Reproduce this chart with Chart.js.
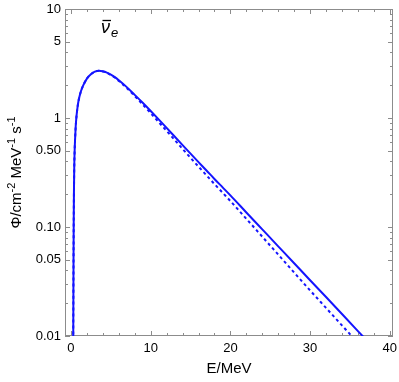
<!DOCTYPE html>
<html>
<head>
<meta charset="utf-8">
<script src="https://cdn.jsdelivr.net/npm/chart.js@4.4.1/dist/chart.umd.min.js"></script>
<style>
  html, body { margin: 0; padding: 0; background: #fff; }
  #wrap { width: 399px; height: 382px; }
</style>
</head>
<body>
<div id="wrap"><canvas id="spectrum"></canvas></div>
<script>
// energies in MeV
const energies = [0.28, 0.30, 0.32, 0.34, 0.37, 0.41, 0.46, 0.52, 0.59, 0.7,
  0.85, 1.0, 1.25, 1.55, 2.0, 2.5, 3.0, 3.5, 4, 4.5,
  5, 5.5, 6, 7, 8, 9, 10, 11, 12, 13,
  14, 15, 16, 17, 18, 19, 20, 22, 24, 26,
  28, 30, 32, 34, 36, 38];
// solid curve
const fluxSolid = [0.008, 0.02, 0.05, 0.1, 0.2, 0.35, 0.5, 0.65, 0.83, 1.05,
  1.3, 1.5, 1.76, 2.0, 2.3, 2.52, 2.66, 2.72, 2.685, 2.61,
  2.50, 2.37, 2.22, 1.92, 1.63, 1.38, 1.16, 0.971, 0.811, 0.676,
  0.564, 0.471, 0.394, 0.330, 0.276, 0.232, 0.195, 0.136, 0.0951, 0.0665,
  0.0465, 0.0325, 0.0228, 0.0159, 0.0111, 0.00776];
// dashed curve
const fluxDashed = [0.008, 0.02, 0.05, 0.1, 0.2, 0.35, 0.5, 0.65, 0.83, 1.05,
  1.3, 1.5, 1.76, 2.0, 2.3, 2.52, 2.66, 2.72, 2.67, 2.60,
  2.48, 2.35, 2.19, 1.885, 1.59, 1.33, 1.108, 0.919, 0.761, 0.630,
  0.520, 0.431, 0.358, 0.298, 0.248, 0.207, 0.173, 0.119, 0.0815, 0.0558,
  0.0382, 0.0262, 0.0181, 0.0125, 0.00866, 0.0060];

const xTicks = [0, 10, 20, 30, 40];
const xMinor = [2, 4, 6, 8, 12, 14, 16, 18, 22, 24, 26, 28, 32, 34, 36, 38];
const yTicks = [0.01, 0.05, 0.1, 0.5, 1, 5, 10];
const yTickLabels = ["0.01", "0.05", "0.10", "0.50", "1", "5", "10"];
const yMinor = [0.02, 0.03, 0.04, 0.06, 0.07, 0.08, 0.09, 0.2, 0.3, 0.4, 0.6, 0.7, 0.8, 0.9, 2, 3, 4, 6, 7, 8, 9];

const FONT = "'Liberation Sans', Arial, sans-serif";
const BLUE = "rgb(20,20,255)";
const FRAME = "#8c8c8c";

/* frame, inward ticks, labels that need super/subscripts */
const decorPlugin = {
  id: "decor",
  beforeDatasetsDraw(chart) {
    const { ctx, chartArea: a, scales } = chart;
    const sx = scales.x, sy = scales.y;
    ctx.save();
    ctx.strokeStyle = FRAME;
    ctx.lineWidth = 1;
    ctx.strokeRect(Math.round(a.left) + 0.5, Math.round(a.top) + 0.5,
      Math.round(a.right - a.left) - 1, Math.round(a.bottom - a.top) - 1);
    ctx.beginPath();
    const xt = (v, len) => {
      const px = Math.round(sx.getPixelForValue(v)) + 0.5;
      ctx.moveTo(px, a.bottom); ctx.lineTo(px, a.bottom - len);
      ctx.moveTo(px, a.top); ctx.lineTo(px, a.top + len);
    };
    const yt = (v, len) => {
      const py = Math.round(sy.getPixelForValue(v)) + 0.5;
      ctx.moveTo(a.left, py); ctx.lineTo(a.left + len, py);
      ctx.moveTo(a.right, py); ctx.lineTo(a.right - len, py);
    };
    xTicks.forEach(v => xt(v, 5));
    xMinor.forEach(v => xt(v, 3));
    yTicks.forEach(v => yt(v, 5));
    yMinor.forEach(v => yt(v, 3));
    ctx.stroke();
    ctx.restore();
  },
  afterDraw(chart) {
    const { ctx, chartArea: a } = chart;
    ctx.save();
    ctx.fillStyle = "#000";
    // nu-bar e label
    ctx.font = "italic 18px " + FONT;
    ctx.textBaseline = "alphabetic";
    ctx.fillText("\u03bd", 101, 33);
    const nw = ctx.measureText("\u03bd").width;
    ctx.strokeStyle = "#000";
    ctx.lineWidth = 1.3;
    ctx.beginPath();
    ctx.moveTo(102.5, 20.5); ctx.lineTo(101 + nw + 1, 20.5);
    ctx.stroke();
    ctx.font = "italic 13px " + FONT;
    ctx.fillText("e", 101 + nw + 1, 37);

    // y axis title with superscripts
    const parts = [["\u03a6/cm", 0], ["-2", 1], [" MeV", 0], ["-1", 1], [" s", 0], ["-1", 1]];
    const fMain = "15px " + FONT, fSup = "11px " + FONT;
    let total = 0;
    parts.forEach(p => { ctx.font = p[1] ? fSup : fMain; total += ctx.measureText(p[0]).width; });
    ctx.translate(21, (a.top + a.bottom) / 2);
    ctx.rotate(-Math.PI / 2);
    let x = -total / 2;
    parts.forEach(p => {
      ctx.font = p[1] ? fSup : fMain;
      ctx.fillText(p[0], x, p[1] ? -6 : 0);
      x += ctx.measureText(p[0]).width;
    });
    ctx.restore();
  }
};

const toPoints = ys => energies.map((e, i) => ({ x: e, y: ys[i] }));

new Chart(document.getElementById("spectrum"), {
  type: "line",
  data: {
    datasets: [
      { data: toPoints(fluxSolid), borderColor: BLUE, borderWidth: 2, pointRadius: 0,
        fill: false, cubicInterpolationMode: "monotone" },
      { data: toPoints(fluxDashed), borderColor: BLUE, borderWidth: 2, pointRadius: 0,
        borderDash: [3, 3], fill: false, cubicInterpolationMode: "monotone" }
    ]
  },
  options: {
    responsive: true,
    maintainAspectRatio: false,
    animation: false,
    layout: { padding: { top: 9, right: 6, left: 0, bottom: 0 } },
    plugins: { legend: { display: false }, tooltip: { enabled: false } },
    scales: {
      x: {
        type: "linear",
        min: -0.75,
        max: 40.4,
        grid: { display: false, drawTicks: false },
        border: { display: false },
        afterBuildTicks: ax => { ax.ticks = xTicks.map(v => ({ value: v })); },
        afterFit: ax => { ax.height = 46; ax.paddingLeft = 0; ax.paddingRight = 0; },
        ticks: { color: "#000", padding: 5, maxRotation: 0, font: { family: FONT, size: 13 } },
        title: { display: true, text: "E/MeV", color: "#000", padding: { top: 2 }, font: { family: FONT, size: 15 } }
      },
      y: {
        type: "logarithmic",
        min: 0.01,
        max: 10,
        grid: { display: false, drawTicks: false },
        border: { display: false },
        afterBuildTicks: ax => { ax.ticks = yTicks.map(v => ({ value: v })); },
        afterFit: ax => { ax.width = 65; ax.paddingTop = 0; ax.paddingBottom = 0; },
        ticks: {
          color: "#000", padding: 4, font: { family: FONT, size: 13 },
          callback: (v, i) => yTickLabels[i]
        }
      }
    }
  },
  plugins: [decorPlugin]
});
</script>
</body>
</html>
